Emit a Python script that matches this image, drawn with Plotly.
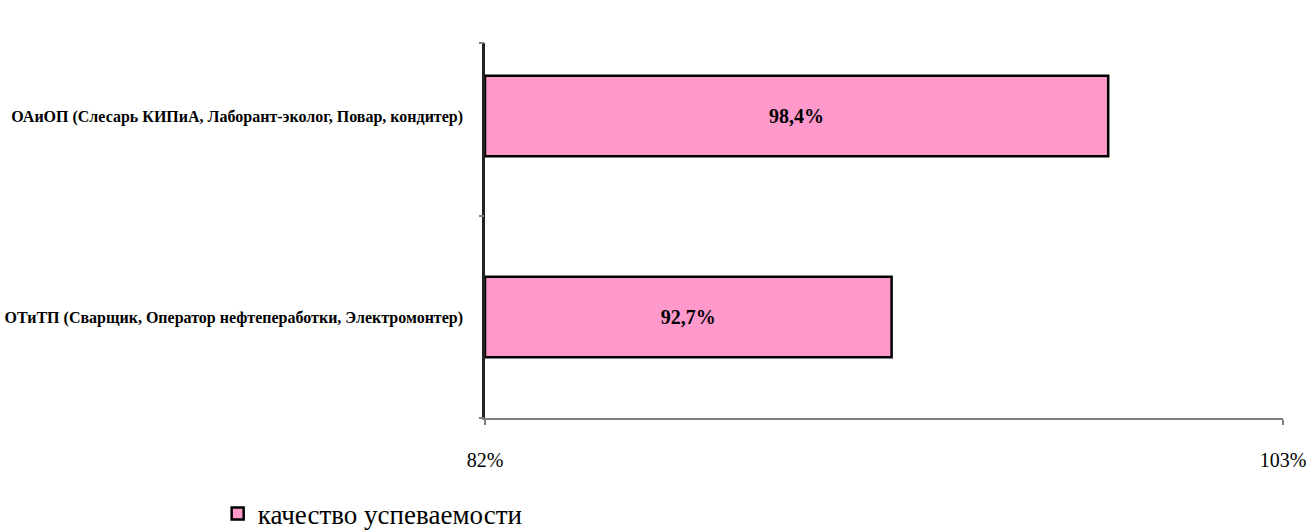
import plotly.graph_objects as go

categories = [
    "ОТиТП (Сварщик, Оператор нефтепеработки, Электромонтер)",
    "ОАиОП (Слесарь КИПиА, Лаборант-эколог, Повар, кондитер)",
]
values = [92.7, 98.4]
labels = ["92,7%", "98,4%"]
series_name = "качество успеваемости"
x_min, x_max = 82, 103
x_ticks = [82, 103]
x_tick_text = ["82%", "103%"]

SERIF = "Liberation Serif"
y_range = [-0.502, 1.363]

fig = go.Figure()
fig.add_trace(go.Bar(
    y=categories, x=[v - x_min for v in values], base=x_min,
    orientation="h", name=series_name,
    text=labels, textposition="inside", textangle=0,
    insidetextanchor="middle", hoverinfo="skip",
    insidetextfont=dict(family=SERIF, size=20, color="black", weight="bold"),
    marker=dict(color="#FF99CC", line=dict(color="black", width=2.5)),
    width=0.4, showlegend=True,
))
# empty trace so the boundary-tick axis is drawn
fig.add_trace(go.Scatter(x=[], y=[], yaxis="y2", showlegend=False, hoverinfo="skip"))

fig.update_layout(
    width=1310, height=531,
    margin=dict(l=485, r=27, t=43, b=113, autoexpand=False),
    paper_bgcolor="white", plot_bgcolor="white",
    font=dict(family=SERIF, color="black"),
    xaxis=dict(
        range=[x_min, x_max], tickvals=x_ticks, ticktext=x_tick_text, automargin=False,
        showgrid=False, zeroline=False, showline=True, linecolor="#808080", linewidth=2,
        ticks="outside", ticklen=5, tickcolor="#808080", tickwidth=1.5,
        tickfont=dict(family=SERIF, size=20), ticklabelstandoff=18,
        ticklabeloverflow="allow",
    ),
    yaxis=dict(
        type="category", categoryorder="array", categoryarray=categories,
        range=y_range, showgrid=False, zeroline=False, automargin=False,
        showline=True, linecolor="#222222", linewidth=2.5,
        ticks="", ticklabelstandoff=16,
        tickfont=dict(family=SERIF, size=16, weight="bold"),
    ),
    yaxis2=dict(
        overlaying="y", anchor="x", range=y_range, tickvals=[-0.502, 0.5025, 1.363],
        automargin=False, showticklabels=False, ticks="outside", ticklen=5,
        tickcolor="#808080", tickwidth=1.5, showgrid=False, zeroline=False,
        showline=False, side="left",
    ),
    legend=dict(
        x=-0.335, y=-0.256, xanchor="left", yanchor="middle",
        font=dict(family=SERIF, size=27), bgcolor="rgba(0,0,0,0)",
    ),
)
fig.write_html(
    "out.html",
    config={"displayModeBar": False},
    post_script="document.body.style.margin='0';",
)
